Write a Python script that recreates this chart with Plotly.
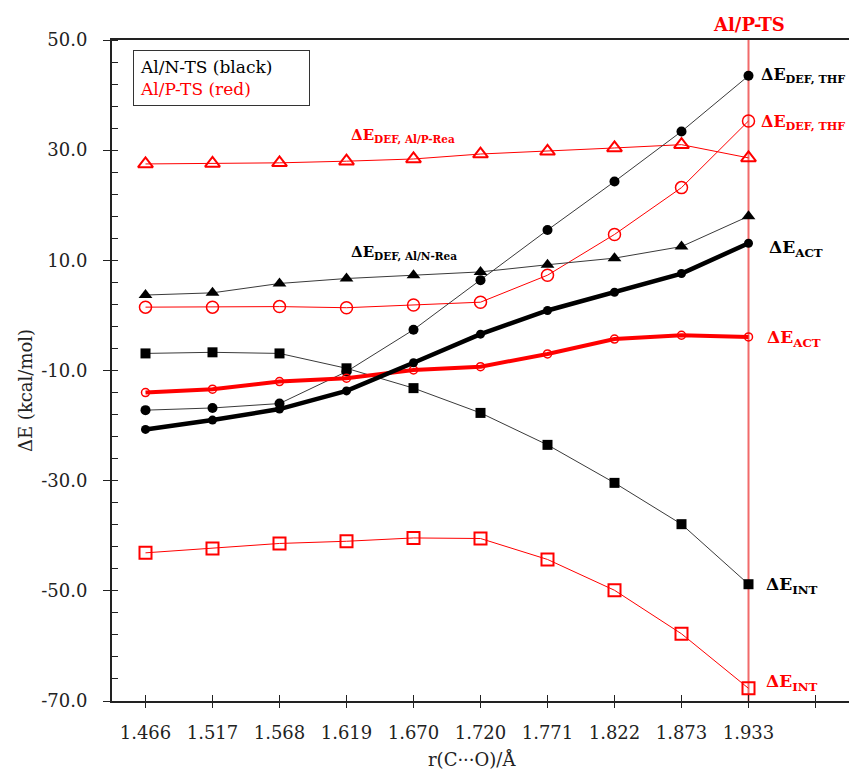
import plotly.graph_objects as go

categories = ["1.466", "1.517", "1.568", "1.619", "1.670", "1.720", "1.771", "1.822", "1.873", "1.933"]
xpos = list(range(len(categories)))

alN_def_thf = [-17.2, -16.8, -16.0, -10.2, -2.6, 6.4, 15.5, 24.3, 33.4, 43.5]
alN_def_rea = [3.7, 4.1, 5.8, 6.7, 7.3, 7.9, 9.2, 10.4, 12.5, 18.0]
alN_act = [-20.7, -19.0, -17.0, -13.7, -8.6, -3.4, 0.9, 4.2, 7.6, 13.1]
alN_int = [-6.9, -6.7, -6.9, -9.6, -13.2, -17.7, -23.5, -30.4, -37.9, -48.8]

alP_def_thf = [1.5, 1.5, 1.6, 1.4, 1.9, 2.4, 7.3, 14.7, 23.2, 35.3]
alP_def_rea = [27.5, 27.6, 27.7, 28.0, 28.4, 29.3, 29.8, 30.4, 31.0, 28.6]
alP_act = [-14.0, -13.4, -12.0, -11.4, -9.9, -9.3, -7.0, -4.3, -3.6, -3.9]
alP_int = [-43.1, -42.3, -41.4, -41.0, -40.4, -40.5, -44.3, -49.9, -57.8, -67.7]

y_ticks = [-70, -50, -30, -10, 10, 30, 50]
y_ticktext = ["-70.0", "-50.0", "-30.0", "-10.0", "10.0", "30.0", "50.0"]

FONT = "DejaVu Serif"
BLK = "black"
THIN_BLK = "#3a3a3a"
RED = "#ff0000"
TXT = "#222"

fig = go.Figure()

def add(y, color, lw, sym, size, mlw=1.5, mcolor=None):
    fig.add_trace(go.Scatter(
        x=xpos, y=y, mode="lines+markers",
        line=dict(color=color, width=lw),
        marker=dict(symbol=sym, size=size, color=mcolor or color,
                    line=dict(color=mcolor or color, width=mlw)),
        showlegend=False, hoverinfo="skip"))

# red thin series
add(alP_def_rea, RED, 1, "triangle-up-open", 13, 2)
add(alP_def_thf, RED, 1, "circle-open", 12, 1.5)
add(alP_int, RED, 1, "square-open", 12, 2)
# black thin series
add(alN_def_rea, THIN_BLK, 1, "triangle-up", 12, 0, BLK)
add(alN_def_thf, THIN_BLK, 1, "circle", 10, 0, BLK)
add(alN_int, THIN_BLK, 1, "square", 10, 0, BLK)
# thick ACT
add(alP_act, RED, 4, "circle-open", 8, 1.5)
add(alN_act, BLK, 4.5, "circle", 9, 0)

# vertical TS line
fig.add_shape(type="line", xref="x", yref="paper", x0=9, x1=9, y0=0, y1=1,
              line=dict(color="rgba(240,90,90,0.9)", width=2), layer="below")

def ann(text, x, y, color, size=16, xanchor="left"):
    fig.add_annotation(text=text, x=x, y=y, xref="x", yref="y", showarrow=False,
                       xanchor=xanchor, yanchor="middle",
                       font=dict(family=FONT, size=size, color=color))

sub = lambda s: "<b>ΔE<sub>%s</sub></b>" % s
ann(sub("DEF, THF"), 9.16, 43.5, BLK, 16)
ann(sub("DEF, THF"), 9.16, 35.1, RED, 16)
ann(sub("ACT"), 9.27, 12.2, BLK, 17)
ann(sub("ACT"), 9.25, -4.1, RED, 17)
ann(sub("INT"), 9.23, -49.0, BLK, 17)
ann(sub("INT"), 9.23, -66.7, RED, 17)
ann(sub("DEF, Al/N-Rea"), 3.04, 11.5, BLK, 15)
ann(sub("DEF, Al/P-Rea"), 3.04, 32.6, RED, 15)

# top label
fig.add_annotation(text="<b>Al/P-TS</b>", x=9, y=1, xref="x", yref="paper",
                   yshift=16, showarrow=False, xanchor="center", yanchor="middle",
                   font=dict(family=FONT, size=18, color=RED))

# legend box
fig.add_annotation(text="Al/N-TS (black)<br><span style='color:#ff0000'>Al/P-TS (red)</span>",
                   xref="paper", yref="paper", x=21/737, y=1 - 10/661,
                   xanchor="left", yanchor="top", align="left", showarrow=False,
                   bordercolor="#333", borderwidth=1, borderpad=6, bgcolor="white",
                   width=163,
                   font=dict(family=FONT, size=17, color=BLK))

# axis titles
fig.add_annotation(text="ΔE (kcal/mol)", xref="paper", yref="paper",
                   x=-87/737, y=1 - (391 - 40) / 661, textangle=-90, showarrow=False,
                   xanchor="center", yanchor="middle",
                   font=dict(family=FONT, size=18, color=TXT))
fig.add_annotation(text="r(C···O)/Å", xref="paper", yref="paper",
                   x=(472 - 112) / 737, y=-(759 - 701) / 661, showarrow=False,
                   xanchor="center", yanchor="middle",
                   font=dict(family=FONT, size=18, color=TXT))

fig.update_layout(
    width=849, height=777,
    margin=dict(l=112, r=0, t=40, b=76),
    plot_bgcolor="white", paper_bgcolor="white",
    font=dict(family=FONT, size=18, color=TXT),
    xaxis=dict(range=[-0.5, 10.5], tickvals=list(range(11)),
               ticktext=categories + [""], showgrid=False, zeroline=False,
               showline=True, linecolor="#222", linewidth=2, mirror=True,
               ticks="outside", ticklen=5, tickwidth=1, tickcolor="#222",
               ticklabelstandoff=9, tickfont=dict(family=FONT, size=18, color=TXT)),
    xaxis2=dict(range=[-0.5, 10.5], overlaying="x", side="bottom",
                tickvals=list(range(11)), showticklabels=False,
                ticks="inside", ticklen=6, tickwidth=1, tickcolor="#222",
                showgrid=False, zeroline=False, showline=False),
    yaxis=dict(range=[-70, 50], tickvals=y_ticks, ticktext=y_ticktext,
               showgrid=False, zeroline=False, showline=True,
               linecolor="#222", linewidth=2,
               ticks="outside", ticklen=7, tickwidth=1, tickcolor="#222",
               ticklabelstandoff=12, tickfont=dict(family=FONT, size=18, color=TXT),
               minor=dict(dtick=4, tick0=-70, ticks="inside", ticklen=6,
                          tickwidth=1, tickcolor="#222", showgrid=False)),
)
# dummy trace to show xaxis2
fig.add_trace(go.Scatter(x=[None], y=[None], xaxis="x2", showlegend=False, hoverinfo="skip"))

fig.write_html("out.html")
